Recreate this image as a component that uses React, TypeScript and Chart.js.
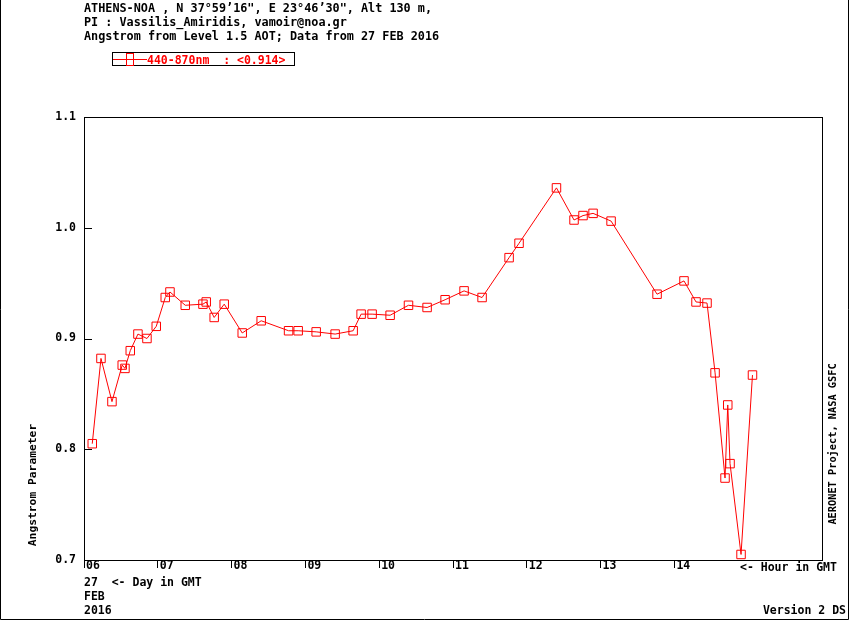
import React, { useEffect, useRef } from "react";
import { Chart, registerables } from "chart.js";

Chart.register(...registerables);

// ---- data (hour of day in GMT, Angstrom parameter 440-870nm) ----
const HOURS = [
  6.112, 6.23, 6.379, 6.518, 6.555, 6.627, 6.731, 6.853, 6.979, 7.101,
  7.165, 7.372, 7.612, 7.656, 7.764, 7.9, 8.144, 8.401, 8.772, 8.902,
  9.146, 9.403, 9.647, 9.755, 9.904, 10.148, 10.397, 10.649, 10.893, 11.15,
  11.394, 11.76, 11.895, 12.402, 12.64, 12.762, 12.898, 13.142, 13.765, 14.13,
  14.293, 14.442, 14.551, 14.686, 14.723, 14.754, 14.903, 15.058,
];
const ANGSTROM = [
  0.805, 0.882, 0.843, 0.876, 0.873, 0.889, 0.904, 0.9, 0.911, 0.937,
  0.942, 0.93, 0.931, 0.933, 0.919, 0.931, 0.905, 0.916, 0.907, 0.907,
  0.906, 0.904, 0.907, 0.922, 0.922, 0.921, 0.93, 0.928, 0.935, 0.943,
  0.937, 0.973, 0.986, 1.036, 1.007, 1.011, 1.013, 1.006, 0.94, 0.952,
  0.933, 0.932, 0.869, 0.774, 0.84, 0.787, 0.705, 0.867,
];
const HOUR_TICKS = [6, 7, 8, 9, 10, 11, 12, 13, 14];
const Y_TICKS = [0.7, 0.8, 0.9, 1.0, 1.1];
const X_MIN = 6;
const X_MAX = 16;
const Y_MIN = 0.7;
const Y_MAX = 1.1;

const HEADER_LINES = [
  "ATHENS-NOA , N 37°59’16\", E 23°46’30\", Alt 130 m,",
  "PI : Vassilis_Amiridis, vamoir@noa.gr",
  "Angstrom from Level 1.5 AOT; Data from 27 FEB 2016",
];
const SERIES_LABEL = "440-870nm";
const SERIES_MEAN = "0.914";
const Y_TITLE = "Angstrom Parameter";
const RIGHT_TITLE = "AERONET Project, NASA GSFC";
const HOUR_TITLE = "<- Hour in GMT";
const DAY_LINE = "27  <- Day in GMT";
const MONTH = "FEB";
const YEAR = "2016";
const VERSION = "Version 2 DS";

const FONT_FAMILY = "'DejaVu Sans Mono', monospace";
const RED = "#ff0000";

const decorPlugin = {
  id: "decor",
  afterDatasetsDraw(chart: any) {
    const { ctx, chartArea } = chart;
    const { left, right, top, bottom } = chartArea;
    ctx.save();
    ctx.strokeStyle = "#000";
    ctx.lineWidth = 1;
    ctx.strokeRect(Math.round(left) + 0.5, Math.round(top) + 0.5, Math.round(right - left), Math.round(bottom - top));
    // inward y ticks
    const ys = chart.scales.y;
    ys.ticks.forEach((t: any) => {
      const py = Math.round(ys.getPixelForValue(t.value)) + 0.5;
      ctx.beginPath();
      ctx.moveTo(left, py);
      ctx.lineTo(left + 8, py);
      ctx.stroke();
    });
    ctx.restore();
  },
  afterDraw(chart: any) {
    const { ctx } = chart;
    const W = chart.width;
    const H = chart.height;
    ctx.save();
    ctx.fillStyle = "#000";
    ctx.textBaseline = "alphabetic";
    ctx.textAlign = "left";

    // header
    ctx.font = `bold 11.8px ${FONT_FAMILY}`;
    HEADER_LINES.forEach((line, i) => ctx.fillText(line, 84, 12 + i * 14));

    // legend box
    ctx.strokeStyle = "#000";
    ctx.lineWidth = 1;
    ctx.strokeRect(112.5, 52.5, 182, 13);
    ctx.strokeStyle = RED;
    ctx.beginPath();
    ctx.moveTo(113, 59.5);
    ctx.lineTo(147, 59.5);
    ctx.stroke();
    ctx.strokeRect(126.5, 53.5, 7, 12);
    ctx.fillStyle = RED;
    ctx.font = `bold 11.5px ${FONT_FAMILY}`;
    ctx.fillText(`${SERIES_LABEL}  : <${SERIES_MEAN}>`, 147, 63.5);

    // bottom texts
    ctx.fillStyle = "#000";
    ctx.font = `bold 11.5px ${FONT_FAMILY}`;
    ctx.fillText(HOUR_TITLE, 740, 570.5);
    ctx.fillText(DAY_LINE, 84, 585.5);
    ctx.fillText(MONTH, 84, 600);
    ctx.fillText(YEAR, 84, 614);
    ctx.textAlign = "right";
    ctx.fillText(VERSION, 846, 614);

    // rotated titles
    ctx.textAlign = "center";
    ctx.textBaseline = "middle";
    ctx.save();
    ctx.translate(33, 485);
    ctx.rotate(-Math.PI / 2);
    ctx.font = `bold 11.3px ${FONT_FAMILY}`;
    ctx.fillText(Y_TITLE, 0, 0);
    ctx.restore();
    ctx.save();
    ctx.translate(833, 444);
    ctx.rotate(-Math.PI / 2);
    ctx.font = `bold 10.3px ${FONT_FAMILY}`;
    ctx.fillText(RIGHT_TITLE, 0, 0);
    ctx.restore();

    // page border
    ctx.strokeStyle = "#000";
    ctx.lineWidth = 1;
    ctx.beginPath();
    ctx.moveTo(0.5, 0);
    ctx.lineTo(0.5, H - 0.5);
    ctx.lineTo(W - 1.5, H - 0.5);
    ctx.lineTo(W - 1.5, 0);
    ctx.stroke();
    ctx.restore();
  },
};

export default function App() {
  const canvasRef = useRef<HTMLCanvasElement | null>(null);

  useEffect(() => {
    document.body.style.margin = "0";
    const canvas = canvasRef.current;
    if (!canvas) return;
    const points = HOURS.map((h, i) => ({ x: h, y: ANGSTROM[i] }));
    const chart = new Chart(canvas, {
      type: "line",
      data: {
        datasets: [
          {
            label: SERIES_LABEL,
            data: points,
            borderColor: RED,
            borderWidth: 1,
            pointStyle: "rect",
            pointRadius: 6,
            pointHoverRadius: 6,
            pointBorderColor: RED,
            pointBorderWidth: 1,
            pointBackgroundColor: "rgba(0,0,0,0)",
            tension: 0,
            fill: false,
          },
        ],
      },
      options: {
        animation: false,
        responsive: false,
        devicePixelRatio: 1,
        events: [],
        layout: { padding: { top: 117, right: 28, left: 0, bottom: 0 } },
        plugins: {
          legend: { display: false },
          title: { display: false },
          tooltip: { enabled: false },
        },
        scales: {
          x: {
            type: "linear",
            min: X_MIN,
            max: X_MAX,
            afterBuildTicks: (scale: any) => {
              scale.ticks = HOUR_TICKS.map((v) => ({ value: v }));
            },
            afterFit: (scale: any) => {
              scale.height = 60;
            },
            grid: {
              drawOnChartArea: false,
              drawTicks: true,
              tickLength: 8,
              color: "#000",
              lineWidth: 1,
            },
            border: { display: true, color: "#000", width: 1 },
            ticks: {
              autoSkip: false,
              maxRotation: 0,
              minRotation: 0,
              align: "start",
              labelOffset: 2,
              padding: -9,
              color: "#000",
              font: { family: FONT_FAMILY, size: 11.5, weight: "bold" },
              callback: (v: any) => String(v).padStart(2, "0"),
            },
          },
          y: {
            type: "linear",
            min: Y_MIN,
            max: Y_MAX,
            afterBuildTicks: (scale: any) => {
              scale.ticks = Y_TICKS.map((v) => ({ value: v }));
            },
            afterFit: (scale: any) => {
              scale.width = 84;
            },
            grid: { drawOnChartArea: false, drawTicks: false },
            border: { display: true, color: "#000", width: 1 },
            ticks: {
              padding: 8,
              color: "#000",
              font: { family: FONT_FAMILY, size: 11.5, weight: "bold" },
              callback: (v: any) => Number(v).toFixed(1),
            },
          },
        },
      },
      plugins: [decorPlugin],
    });
    return () => chart.destroy();
  }, []);

  return (
    <div style={{ width: 850, height: 620, background: "#fff" }}>
      <canvas ref={canvasRef} width={850} height={620} />
    </div>
  );
}
